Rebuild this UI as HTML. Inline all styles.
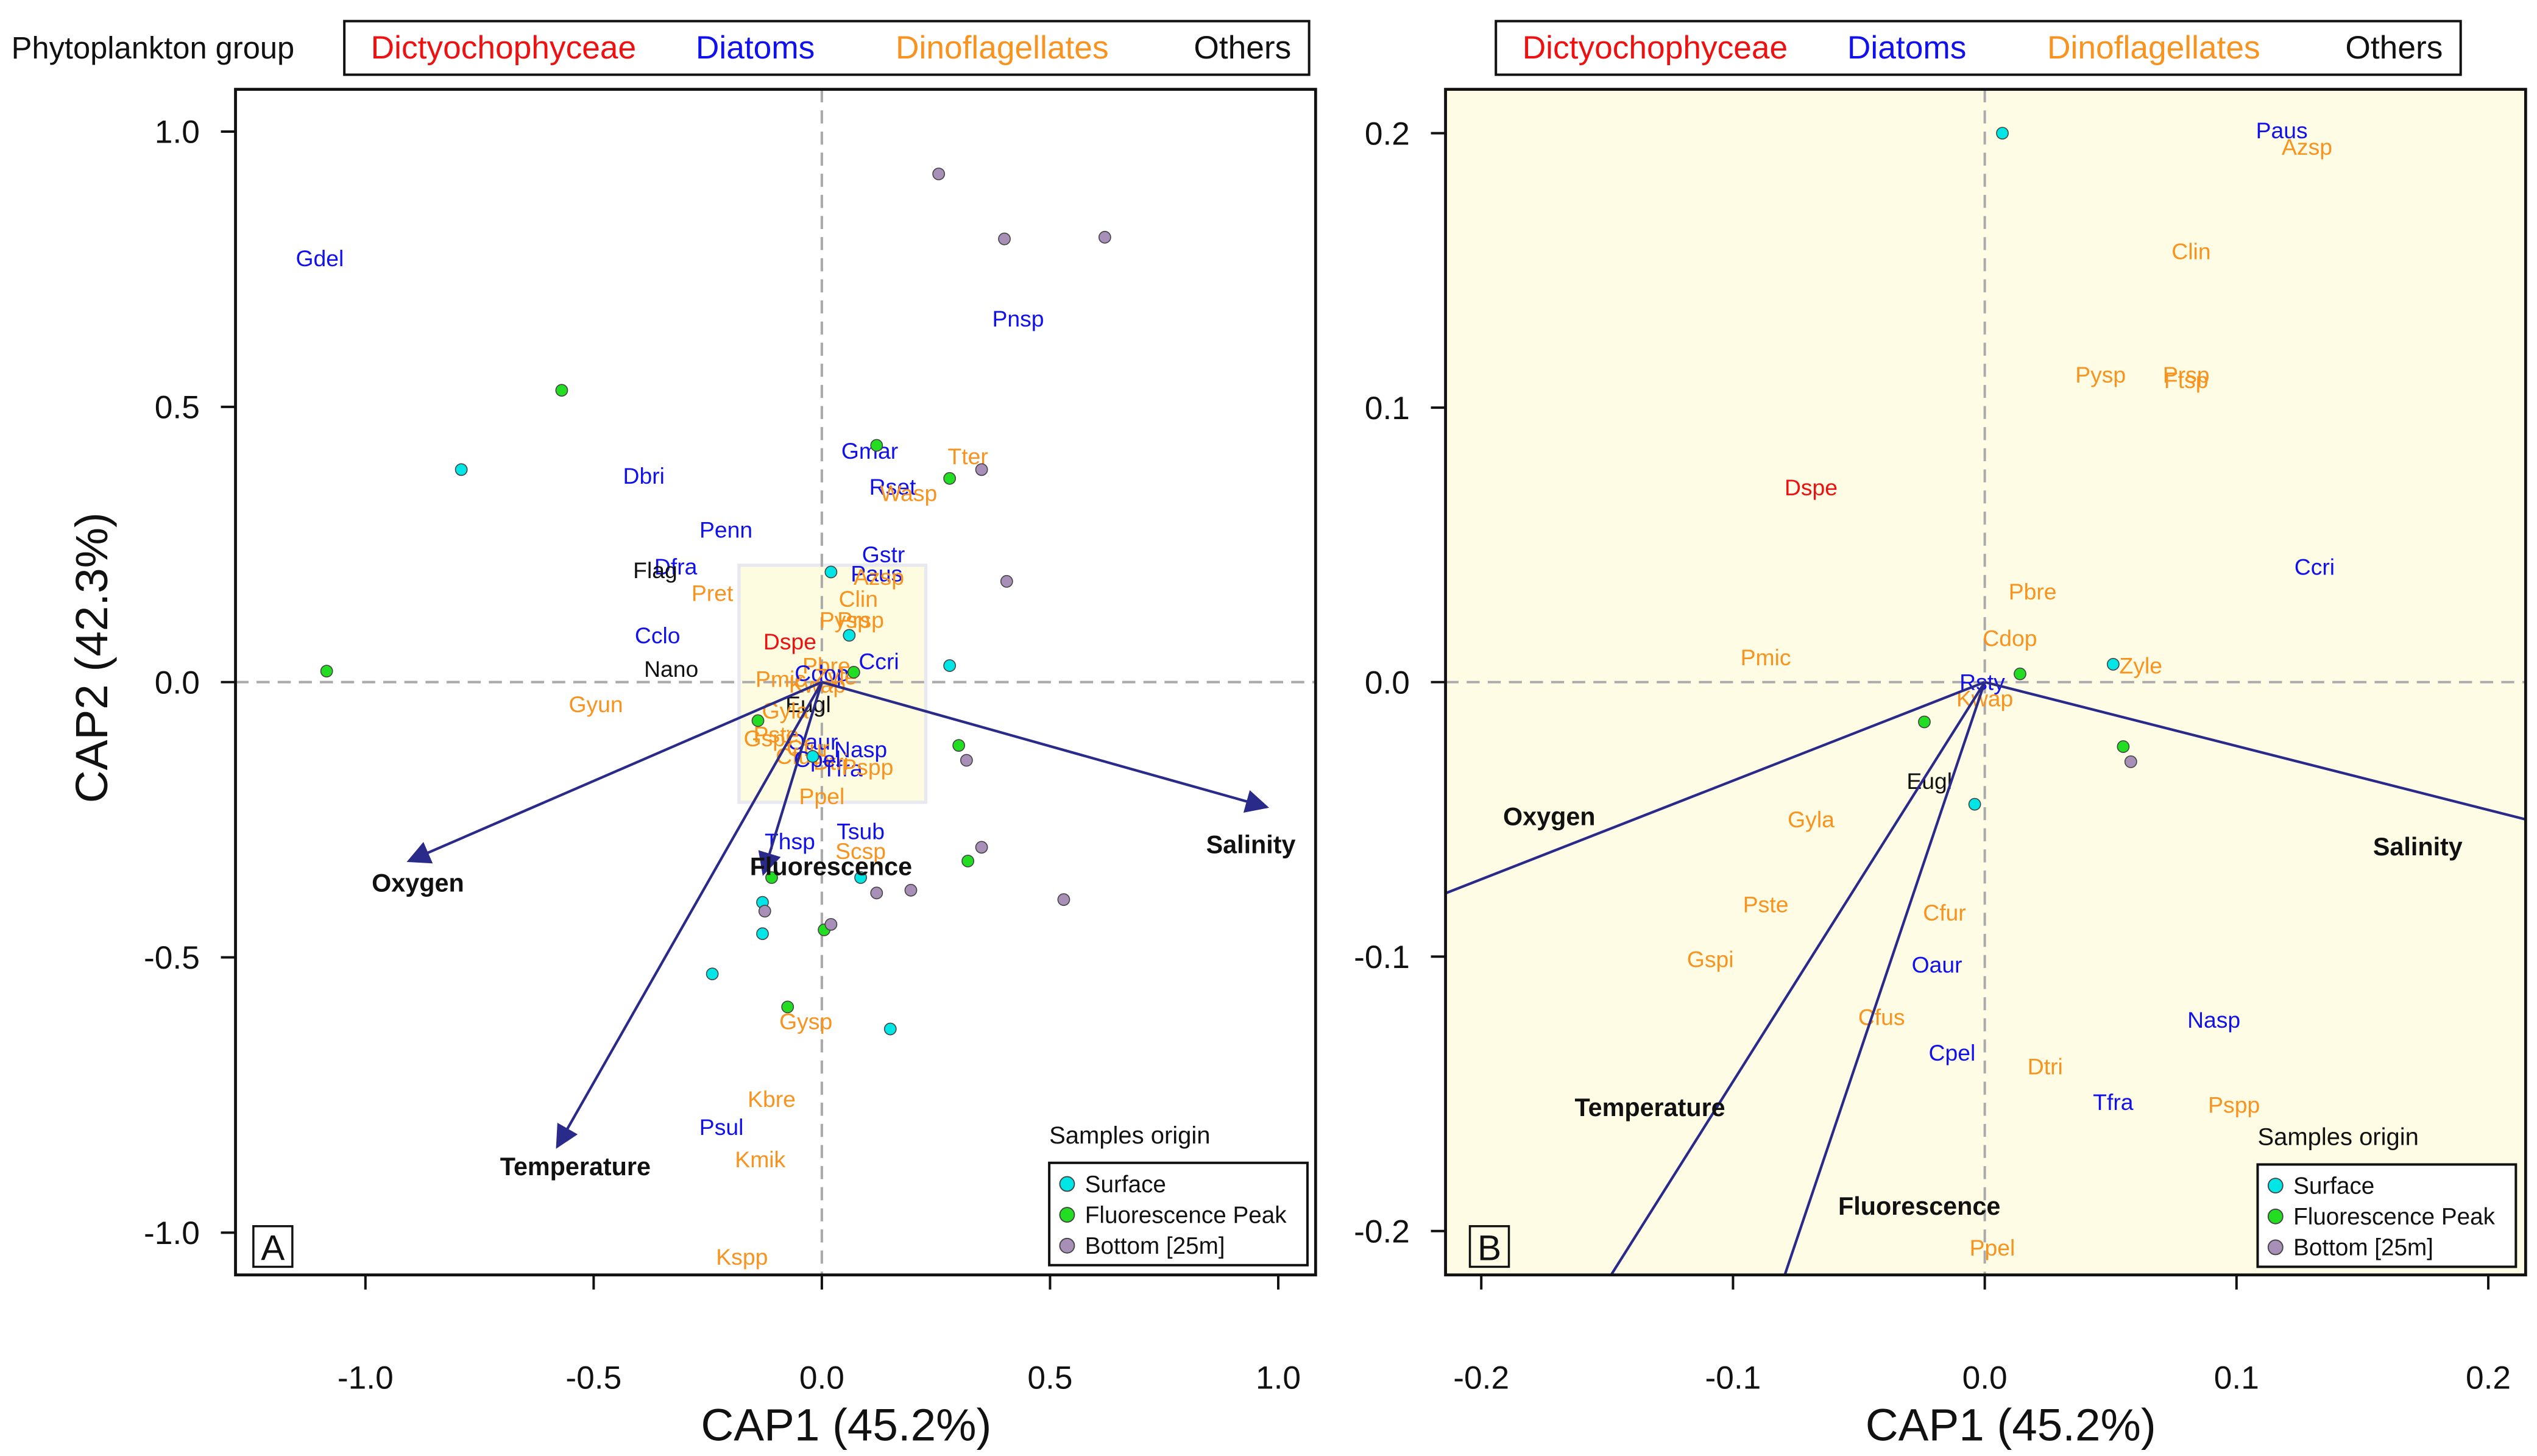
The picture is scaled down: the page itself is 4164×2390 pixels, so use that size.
<!DOCTYPE html>
<html><head><meta charset="utf-8"><style>
html,body{margin:0;padding:0;background:#fff;width:4164px;height:2390px;overflow:hidden}
svg{display:block;font-family:"Liberation Sans",Arial,sans-serif}
</style></head><body>
<svg id="chart" width="4164" height="2390" viewBox="0 0 1562 896.5" preserveAspectRatio="none" overflow="hidden" xmlns="http://www.w3.org/2000/svg">
<defs>
<clipPath id="clipA"><rect x="145" y="55" width="665" height="730"/></clipPath>
<clipPath id="clipB"><rect x="890" y="55" width="665" height="730"/></clipPath>
<marker id="arr" viewBox="0 0 10 10" refX="9" refY="5" markerWidth="9" markerHeight="9" orient="auto"><path d="M0,0 L10,5 L0,10 Z" fill="#2a2a8a"/></marker>
</defs>
<g id="root"></g>
</svg>
<script>
// ---------- data ----------
const colorMap = {D:"#ee1111", B:"#1111ee", O:"#f7931e", K:"#111111"};
const ptColors = {S:"#00e6e6", F:"#22dd22", P:"#a88fb8"};
const aSurfX = [-0.79,0.02,0.06,0.28,-0.02,0.085,-0.13,-0.13,-0.24,0.15];
const aSurfY = [0.386,0.2,0.085,0.03,-0.135,-0.355,-0.40,-0.457,-0.53,-0.63];
const aFlX = [-0.57,-1.085,0.12,0.28,0.07,-0.14,0.3,0.32,-0.11,0.005,-0.075];
const aFlY = [0.53,0.02,0.43,0.37,0.018,-0.07,-0.115,-0.325,-0.355,-0.45,-0.59];
const aBotX = [0.256,0.4,0.62,0.35,0.405,0.317,0.35,0.53,0.195,0.12,0.02,-0.125];
const aBotY = [0.923,0.805,0.808,0.386,0.183,-0.142,-0.30,-0.395,-0.378,-0.383,-0.44,-0.416];
const aSpNames = ["Gdel","Pnsp","Dbri","Gmar","Tter","Rset","Wasp","Penn","Gstr","Paus","Azsp","Dfra","Flag","Pret","Clin","Pysp","Prsp","Cclo","Dspe","Ccri","Nano","Pmic","Gyun","Eugl","Gyla","Gspi","Oaur","Nasp","Tfra","Pspp","Cfus","Ppel","Tsub","Thsp","Scsp","Gysp","Kbre","Psul","Kmik","Kspp","Pbre","Cdop","Zyle","Kwap","Pste","Cfur","Dtri","Cpel"];
const aSpGroup = ["B","B","B","B","O","B","O","B","B","B","O","B","K","O","O","O","O","B","D","B","K","O","O","K","O","O","B","B","B","O","O","O","B","B","O","O","O","B","O","O","O","B","O","O","O","O","O","B"];
const aSpX = [-1.1,0.43,-0.39,0.105,0.32,0.155,0.19,-0.21,0.135,0.12,0.125,-0.32,-0.365,-0.24,0.08,0.05,0.085,-0.36,-0.07,0.125,-0.33,-0.09,-0.495,-0.03,-0.08,-0.12,-0.02,0.085,0.045,0.1,-0.05,0.0,0.085,-0.07,0.085,-0.035,-0.11,-0.22,-0.135,-0.175,0.01,0.0,0.03,-0.01,-0.1,-0.03,0.02,-0.01];
const aSpY = [0.77,0.66,0.375,0.42,0.41,0.355,0.343,0.277,0.232,0.197,0.191,0.21,0.203,0.162,0.151,0.113,0.113,0.085,0.074,0.038,0.024,0.006,-0.04,-0.04,-0.052,-0.102,-0.108,-0.122,-0.157,-0.154,-0.134,-0.207,-0.271,-0.289,-0.307,-0.616,-0.757,-0.808,-0.867,-1.044,0.03,0.016,0.01,-0.005,-0.095,-0.12,-0.145,-0.14];
const envNames = ["Oxygen","Salinity","Temperature","Fluorescence"];
const envX = [-0.905,0.975,-0.58,-0.128];
const envY = [-0.325,-0.227,-0.844,-0.348];
const envLabA_X = [-0.885,0.94,-0.54,0.02];
const envLabA_Y = [-0.365,-0.295,-0.88,-0.335];
const bSurfX = [0.007,0.051,-0.004];
const bSurfY = [0.2,0.0065,-0.0445];
const bFlX = [0.014,-0.024,0.055];
const bFlY = [0.003,-0.0145,-0.0235];
const bBotX = [0.058];
const bBotY = [-0.029];
const bSpNames = ["Paus","Azsp","Clin","Pysp","Prsp","Ftsp","Dspe","Pbre","Ccri","Cdop","Pmic","Zyle","Rsty","Kwap","Eugl","Gyla","Pste","Cfur","Gspi","Oaur","Cfus","Nasp","Cpel","Dtri","Tfra","Pspp","Ppel"];
const bSpGroup = ["B","O","O","O","O","O","D","O","B","O","O","O","B","O","K","O","O","O","O","B","O","B","B","O","B","O","O"];
const bSpX = [0.118,0.128,0.082,0.046,0.08,0.08,-0.069,0.019,0.131,0.01,-0.087,0.062,-0.001,0.0,-0.022,-0.069,-0.087,-0.016,-0.109,-0.019,-0.041,0.091,-0.013,0.024,0.051,0.099,0.003];
const bSpY = [0.201,0.195,0.157,0.112,0.112,0.11,0.071,0.033,0.042,0.016,0.009,0.006,0.0,-0.006,-0.036,-0.05,-0.081,-0.084,-0.101,-0.103,-0.122,-0.123,-0.135,-0.14,-0.153,-0.154,-0.206];
const envLabB_X = [-0.173,0.172,-0.133,-0.026];
const envLabB_Y = [-0.049,-0.06,-0.155,-0.191];
const aXTicks = [-1.0,-0.5,0.0,0.5,1.0];
const aXTickLabels = ["-1.0","-0.5","0.0","0.5","1.0"];
const aYTicks = [1.0,0.5,0.0,-0.5,-1.0];
const aYTickLabels = ["1.0","0.5","0.0","-0.5","-1.0"];
const bXTicks = [-0.2,-0.1,0.0,0.1,0.2];
const bXTickLabels = ["-0.2","-0.1","0.0","0.1","0.2"];
const bYTicks = [0.2,0.1,0.0,-0.1,-0.2];
const bYTickLabels = ["0.2","0.1","0.0","-0.1","-0.2"];
const groupNames = ["Dictyochophyceae","Diatoms","Dinoflagellates","Others"];
const originNames = ["Surface","Fluorescence Peak","Bottom [25m]"];

const sxA = v => 506 + 281*v, syA = v => 420 - 339*v;
const sxB = v => 1222 + 1550*v, syB = v => 420 - 1690*v;
const NS = "http://www.w3.org/2000/svg";
const root = document.getElementById('root');
function mk(tag, attrs, parent, txt){
  const e = document.createElementNS(NS, tag);
  for (const k in attrs) e.setAttribute(k, attrs[k]);
  if (txt !== undefined) e.textContent = txt;
  (parent||root).appendChild(e); return e;
}

function panel(id, sx, sy, clip, bg){
  const g = mk('g', {});
  
  
  mk('rect', {x:145+(id==='b'?745:0), y:55, width:665, height:730, fill:bg, stroke:'none'}, g);
  const pg = mk('g', {'clip-path':'url(#'+clip+')'}, g);
  const x0 = id==='b'?890:145;
  const h = mk('line', {x1:x0, x2:x0+665, y1:sy(0), y2:sy(0), stroke:'#aaa', 'stroke-width':1.5, 'stroke-dasharray':'8,5'}, pg);
  
  
  const v = mk('line', {x1:sx(0), x2:sx(0), y1:55, y2:785, stroke:'#aaa', 'stroke-width':1.5, 'stroke-dasharray':'8,5'}, pg);
  
  
  return {g, pg, x0};
}

const A = panel('a', sxA, syA, 'clipA', '#ffffff');
const zoomRect = mk('rect', {x:455, y:348, width:115, height:146, fill:'#fdfbe0', stroke:'#e8e8f0', 'stroke-width':2}, A.pg);


mk('line', {x1:145, x2:810, y1:syA(0), y2:syA(0), stroke:'#aaa', 'stroke-width':1.5, 'stroke-dasharray':'8,5'}, A.pg);
mk('line', {x1:sxA(0), x2:sxA(0), y1:55, y2:785, stroke:'#aaa', 'stroke-width':1.5, 'stroke-dasharray':'8,5'}, A.pg);

function points(pg, sx, sy, xs, ys, col, name){
  for (let i=0;i<xs.length;i++){
    const c = mk('circle', {cx:sx(xs[i]), cy:sy(ys[i]), r:3.6, fill:col, stroke:'#444', 'stroke-width':0.6}, pg);
    
    
  }
}
function species(pg, sx, sy, names, groups, xs, ys){
  for (let i=0;i<names.length;i++){
    const t = mk('text', {x:sx(xs[i]), y:sy(ys[i]), 'font-size':14, fill:colorMap[groups[i]], 'text-anchor':'middle', 'dominant-baseline':'central'}, pg, names[i]);
    
    
  }
}
function arrows(pg, sx, sy, k, marker){
  for (let i=0;i<envNames.length;i++){
    const l = mk('line', {x1:sx(0), y1:sy(0), x2:sx(envX[i]*k), y2:sy(envY[i]*k), stroke:'#2a2a8a', 'stroke-width':1.6}, pg);
    if (marker) l.setAttribute('marker-end','url(#arr)');
    
    
  }
}
function envLabels(pg, sx, sy, lx, ly){
  for (let i=0;i<envNames.length;i++){
    const t = mk('text', {x:sx(lx[i]), y:sy(ly[i]), 'font-size':15.5, 'font-weight':'bold', fill:'#111', 'text-anchor':'middle', 'dominant-baseline':'central'}, pg, envNames[i]);
    
    
  }
}
species(A.pg, sxA, syA, aSpNames, aSpGroup, aSpX, aSpY);
arrows(A.pg, sxA, syA, 1, true);
points(A.pg, sxA, syA, aSurfX, aSurfY, ptColors.S, 'surface');
points(A.pg, sxA, syA, aFlX, aFlY, ptColors.F, 'fluorescence-peak');
points(A.pg, sxA, syA, aBotX, aBotY, ptColors.P, 'bottom');
envLabels(A.pg, sxA, syA, envLabA_X, envLabA_Y);

const B = panel('b', sxB, syB, 'clipB', '#fefce4');
species(B.pg, sxB, syB, bSpNames, bSpGroup, bSpX, bSpY);
arrows(B.pg, sxB, syB, 3, false);
points(B.pg, sxB, syB, bSurfX, bSurfY, ptColors.S, 'surface');
points(B.pg, sxB, syB, bFlX, bFlY, ptColors.F, 'fluorescence-peak');
points(B.pg, sxB, syB, bBotX, bBotY, ptColors.P, 'bottom');
envLabels(B.pg, sxB, syB, envLabB_X, envLabB_Y);

function frameAndTicks(x0, sx, sy, xt, xtl, yt, ytl, id){
  const f = mk('rect', {x:x0, y:55, width:665, height:730, fill:'none', stroke:'#111', 'stroke-width':1.8});
  
  
  for (let i=0;i<xt.length;i++){
    mk('line', {x1:sx(xt[i]), x2:sx(xt[i]), y1:785, y2:794, stroke:'#111', 'stroke-width':1.5});
    const t = mk('text', {x:sx(xt[i]), y:855, 'font-size':20, 'text-anchor':'middle', fill:'#111'}, root, xtl[i]);
    
    
  }
  for (let i=0;i<yt.length;i++){
    mk('line', {x1:x0-9, x2:x0, y1:sy(yt[i]), y2:sy(yt[i]), stroke:'#111', 'stroke-width':1.5});
    const t = mk('text', {x:x0-22, y:sy(yt[i])+7, 'font-size':20, 'text-anchor':'end', fill:'#111'}, root, ytl[i]);
    
    
  }
}
frameAndTicks(145, sxA, syA, aXTicks, aXTickLabels, aYTicks, aYTickLabels, 'a');
frameAndTicks(890, sxB, syB, bXTicks, bXTickLabels, bYTicks, bYTickLabels, 'b');

let t;
t = mk('text', {x:521, y:887, 'font-size':28, 'text-anchor':'middle', fill:'#111'}, root, 'CAP1 (45.2%)');
 
t = mk('text', {x:1238, y:887, 'font-size':28, 'text-anchor':'middle', fill:'#111'}, root, 'CAP1 (45.2%)');
 
t = mk('text', {x:0, y:0, 'font-size':28, 'text-anchor':'middle', fill:'#111', transform:'translate(66,405) rotate(-90)'}, root, 'CAP2 (42.3%)');
 

function letter(x, s, id){
  const g = mk('g', {});
  
  
  mk('rect', {x:x, y:755, width:24, height:25, fill:'none', stroke:'#111', 'stroke-width':1.3}, g);
  mk('text', {x:x+12, y:776, 'font-size':22, 'text-anchor':'middle', fill:'#111'}, g, s);
}
letter(156, 'A', 'a'); letter(905, 'B', 'b');

t = mk('text', {x:7, y:36, 'font-size':19, fill:'#111'}, root, 'Phytoplankton group');
 
function groupLegend(x0, xs, id){
  const g = mk('g', {});
  
  
  mk('rect', {x:x0, y:13, width:594, height:33, fill:'#fff', stroke:'#111', 'stroke-width':1.5}, g);
  const cols = [colorMap.D, colorMap.B, colorMap.O, colorMap.K];
  for (let i=0;i<groupNames.length;i++){
    const e = mk('text', {x:x0+xs[i], y:36, 'font-size':20, 'text-anchor':'middle', fill:cols[i]}, g, groupNames[i]);
    
    
  }
}
groupLegend(212, [98,253,405,553], 'a');
groupLegend(921, [98,253,405,553], 'b');

function originLegend(x0, y0, id){
  const g = mk('g', {});
  
  
  mk('text', {x:x0, y:y0-12, 'font-size':15, fill:'#111'}, g, 'Samples origin');
  mk('rect', {x:x0, y:y0, width:159, height:63, fill:'#fff', stroke:'#111', 'stroke-width':1.5}, g);
  const cs = [ptColors.S, ptColors.F, ptColors.P];
  for (let i=0;i<3;i++){
    mk('circle', {cx:x0+11, cy:y0+13+i*19, r:4.5, fill:cs[i], stroke:'#444', 'stroke-width':0.7}, g);
    const e = mk('text', {x:x0+22, y:y0+18+i*19, 'font-size':14.5, fill:'#111'}, g, originNames[i]);
    
    
  }
}
originLegend(646, 716, 'a');
originLegend(1390, 717, 'b');
</script>
</body></html>
